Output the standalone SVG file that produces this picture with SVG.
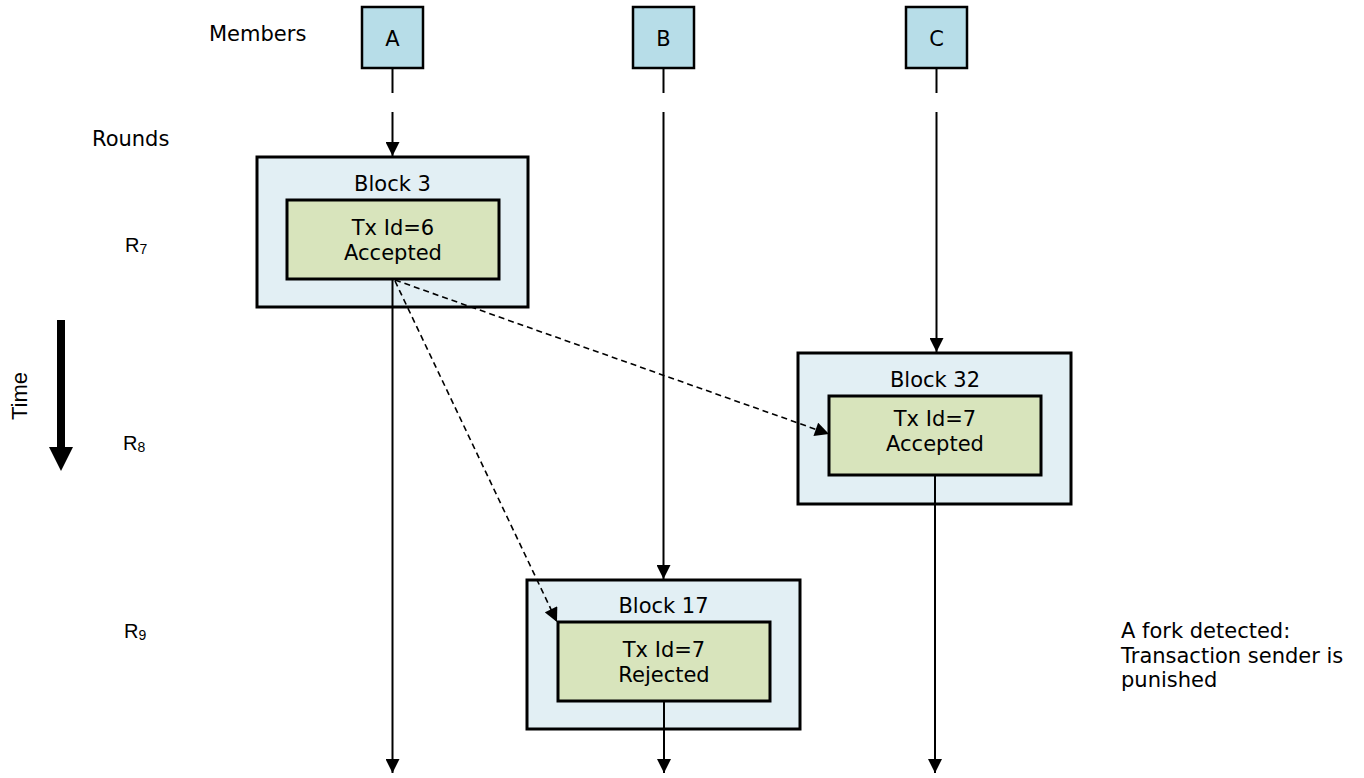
<svg xmlns="http://www.w3.org/2000/svg" width="1364" height="778" viewBox="0 0 1364 778">
  <defs>
    <marker id="arrow" viewBox="0 0 10 10" refX="10" refY="5" markerWidth="15" markerHeight="14" markerUnits="userSpaceOnUse" orient="auto">
      <path d="M0,0 L10,5 L0,10 Z" fill="#000"/>
    </marker>
    <style>
      .lbl { font-family: "DejaVu Sans", Verdana, sans-serif; font-size: 21px; fill: #000; }
      .mid { text-anchor: middle; }
      .rnd { font-family: "Liberation Sans", Arial, sans-serif; font-size: 20px; fill: #000; }
      .time { font-size: 22px; text-anchor: middle; }
      .sub { font-size: 14px; }
      .member { fill: #b7dde8; stroke: #000; stroke-width: 2.5; }
      .block { fill: #e2eff4; stroke: #000; stroke-width: 3; }
      .tx { fill: #d8e4bc; stroke: #000; stroke-width: 3; }
      .life { stroke: #000; stroke-width: 2; fill: none; }
      .ref { stroke: #000; stroke-width: 1.6; stroke-dasharray: 6 4; fill: none; }
    </style>
  </defs>
  <rect width="1364" height="778" fill="#fff"/>

  <!-- Side labels -->
  <text class="lbl" x="209" y="41">Members</text>
  <text class="lbl" x="92" y="146">Rounds</text>
  <text class="rnd" x="125" y="252">R<tspan class="sub" dy="2">7</tspan></text>
  <text class="rnd" x="123" y="450">R<tspan class="sub" dy="2">8</tspan></text>
  <text class="rnd" x="124" y="638">R<tspan class="sub" dy="2">9</tspan></text>
  <text class="rnd time" x="27" y="396" transform="rotate(-90 27 396)">Time</text>
  <path d="M57,320 H65 V447 H73 L61,471 L49,447 H57 Z" fill="#000"/>

  <!-- Members -->
  <g id="member-a">
    <rect class="member" x="362" y="7" width="61" height="61"/>
    <text class="lbl mid" x="392.5" y="46">A</text>
  </g>
  <g id="member-b">
    <rect class="member" x="633" y="7" width="61" height="61"/>
    <text class="lbl mid" x="663.5" y="46">B</text>
  </g>
  <g id="member-c">
    <rect class="member" x="906" y="7" width="61" height="61"/>
    <text class="lbl mid" x="936.5" y="46">C</text>
  </g>

  <!-- Blocks -->
  <g id="block-3">
    <rect class="block" x="257" y="157" width="271" height="150"/>
    <text class="lbl mid" x="392.5" y="191">Block 3</text>
    <rect class="tx" x="287" y="200" width="212" height="79"/>
    <text class="lbl mid" x="393" y="235">Tx Id=6</text>
    <text class="lbl mid" x="393" y="260">Accepted</text>
  </g>
  <g id="block-32">
    <rect class="block" x="798" y="353" width="273" height="151"/>
    <text class="lbl mid" x="935" y="387">Block 32</text>
    <rect class="tx" x="829" y="396" width="212" height="79"/>
    <text class="lbl mid" x="935" y="426">Tx Id=7</text>
    <text class="lbl mid" x="935" y="451">Accepted</text>
  </g>
  <g id="block-17">
    <rect class="block" x="527" y="580" width="273" height="149"/>
    <text class="lbl mid" x="663.5" y="613">Block 17</text>
    <rect class="tx" x="558" y="622" width="212" height="79"/>
    <text class="lbl mid" x="664" y="657">Tx Id=7</text>
    <text class="lbl mid" x="664" y="682">Rejected</text>
  </g>

  <!-- Note -->
  <g id="note">
    <text class="lbl" x="1121" y="638">A fork detected:</text>
    <text class="lbl" x="1121" y="662.5">Transaction sender is</text>
    <text class="lbl" x="1121" y="687">punished</text>
  </g>

  <!-- Connectors -->
  <g id="connectors">
    <line class="life" x1="392.5" y1="68" x2="392.5" y2="93"/>
    <line class="life" x1="392.5" y1="112" x2="392.5" y2="156" marker-end="url(#arrow)"/>
    <line class="life" x1="663.5" y1="68" x2="663.5" y2="93"/>
    <line class="life" x1="663.5" y1="112" x2="663.5" y2="579" marker-end="url(#arrow)"/>
    <line class="life" x1="936.5" y1="68" x2="936.5" y2="93"/>
    <line class="life" x1="936.5" y1="112" x2="936.5" y2="352" marker-end="url(#arrow)"/>

    <line class="life" x1="392.5" y1="279" x2="392.5" y2="773" marker-end="url(#arrow)"/>
    <line class="life" x1="664" y1="701" x2="664" y2="773" marker-end="url(#arrow)"/>
    <line class="life" x1="935" y1="475" x2="935" y2="773" marker-end="url(#arrow)"/>

    <line class="ref" x1="395" y1="280" x2="829" y2="434" marker-end="url(#arrow)"/>
    <line class="ref" x1="395" y1="281" x2="557" y2="622" marker-end="url(#arrow)"/>
  </g>
</svg>
